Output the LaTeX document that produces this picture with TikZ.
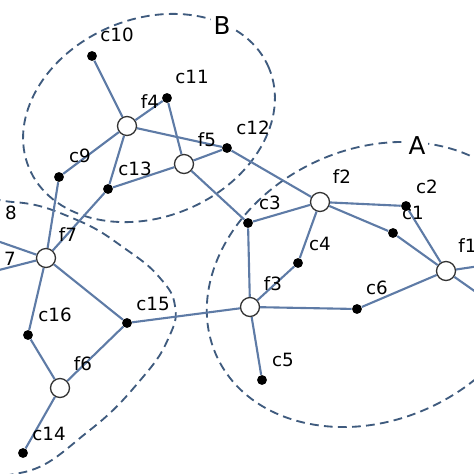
\documentclass[tikz,border=0pt]{standalone}
\usepackage{fontspec}
\setmainfont{DejaVu Sans}
\usetikzlibrary{positioning}
\definecolor{Edge}{HTML}{5E7BA6}
\definecolor{Zone}{HTML}{3F5B7E}
\definecolor{Rim}{HTML}{333333}

\begin{document}
\begin{tikzpicture}[
  x=0.02cm, y=-0.02cm,
  font=\fontsize{10.4}{12}\selectfont,
  fac/.style={circle, draw=Rim, fill=white, line width=0.75pt, minimum size=10.8pt, inner sep=0pt},
  cus/.style={circle, fill=black, minimum size=5.6pt, inner sep=0pt},
  tag/.style={inner sep=0pt},
  zone/.style={draw=Zone, line width=1.05pt, dash pattern=on 5pt off 3pt},
  zonetag/.style={fill=white, inner sep=1.5pt, font=\fontsize{14}{16}\selectfont},
  lnk/.style={draw=Edge, line width=1.2pt},
]
\useasboundingbox (0,0) rectangle (474,474);
\clip (0,0) rectangle (474,474);
% dashed groups
\draw[zone, rotate around={22.5:(149,118)}] (149,118) ellipse [x radius=2.6cm, y radius=1.98cm];
\draw[zone, rotate around={24.7:(373,284.5)}] (373,284.5) ellipse [x radius=3.44cm, y radius=2.71cm];
\draw[zone] plot[smooth cycle, tension=0.75] coordinates {(13,202) (77,220) (127,250) (160,278) (175,306) (169,337) (143,377) (90,430) (20,473) (-50,455) (-90,330) (-50,212)};
\node[zonetag] (zb) at (222,26) {B};
\node[zonetag] (za) at (417,146) {A};
% facilities
\node[fac] (f1) at (446,271) {};
\node[fac] (f2) at (320,202) {};
\node[fac] (f3) at (250,307) {};
\node[fac] (f4) at (127,126) {};
\node[fac] (f5) at (184,164) {};
\node[fac] (f6) at (60,388) {};
\node[fac] (f7) at (46,258) {};
% customers
\node[cus] (c1) at (393,233) {};
\node[cus] (c2) at (406,206) {};
\node[cus] (c3) at (248,223) {};
\node[cus] (c4) at (298,263) {};
\node[cus] (c5) at (262,380) {};
\node[cus] (c6) at (357,309) {};
\node[cus] (c9) at (59,177) {};
\node[cus] (c10) at (92,56) {};
\node[cus] (c11) at (167,98) {};
\node[cus] (c12) at (227,148) {};
\node[cus] (c13) at (108,189) {};
\node[cus] (c14) at (23,453) {};
\node[cus] (c15) at (127,323) {};
\node[cus] (c16) at (28,335) {};
\coordinate (e1) at (520,260);
\coordinate (e2) at (520,323);
\coordinate (w1) at (-40,228);
\coordinate (w2) at (-40,280);
% links
\draw[lnk] (c10) -- (f4);
\draw[lnk] (f4) -- (c11);
\draw[lnk] (c11) -- (f5);
\draw[lnk] (f4) -- (c12);
\draw[lnk] (f5) -- (c12);
\draw[lnk] (c12) -- (f2);
\draw[lnk] (f4) -- (c9);
\draw[lnk] (c9) -- (f7);
\draw[lnk] (f4) -- (c13);
\draw[lnk] (c13) -- (f5);
\draw[lnk] (c13) -- (f7);
\draw[lnk] (f5) -- (c3);
\draw[lnk] (c3) -- (f2);
\draw[lnk] (c3) -- (f3);
\draw[lnk] (f2) -- (c4);
\draw[lnk] (c4) -- (f3);
\draw[lnk] (f2) -- (c2);
\draw[lnk] (f2) -- (c1);
\draw[lnk] (c1) -- (f1);
\draw[lnk] (c2) -- (f1);
\draw[lnk] (f1) -- (e1);
\draw[lnk] (f1) -- (e2);
\draw[lnk] (f3) -- (c6);
\draw[lnk] (c6) -- (f1);
\draw[lnk] (f3) -- (c5);
\draw[lnk] (f3) -- (c15);
\draw[lnk] (f7) -- (c15);
\draw[lnk] (c15) -- (f6);
\draw[lnk] (f6) -- (c16);
\draw[lnk] (c16) -- (f7);
\draw[lnk] (f6) -- (c14);
\draw[lnk] (f7) -- (w1);
\draw[lnk] (f7) -- (w2);
% labels
\node[tag] (tf1) [anchor=west] at (458,246) {f1};
\node[tag] (tf2) at (342,177) {f2};
\node[tag] (tf3) at (273,284) {f3};
\node[tag] (tf4) at (150,102) {f4};
\node[tag] (tf5) at (207,140) {f5};
\node[tag] (tf6) at (83,364) {f6};
\node[tag] (tf7) at (68,235) {f7};
\node[tag] (tc1) at (413,213) {c1};
\node[tag] (tc2) at (427,187) {c2};
\node[tag] (tc3) at (270,203) {c3};
\node[tag] (tc4) at (320,244) {c4};
\node[tag] (tc5) at (283,360) {c5};
\node[tag] (tc6) at (377,288) {c6};
\node[tag] (tc7) at (10,259) {7};
\node[tag] (tc8) at (11,213) {8};
\node[tag] (tc9) at (80,156) {c9};
\node[tag] (tc10) at (117,35) {c10};
\node[tag] (tc11) at (192,77) {c11};
\node[tag] (tc12) at (253,128) {c12};
\node[tag] (tc13) at (135,169) {c13};
\node[tag] (tc14) at (49,434) {c14};
\node[tag] (tc15) at (153,304) {c15};
\node[tag] (tc16) at (55,315) {c16};
\end{tikzpicture}
\end{document}
